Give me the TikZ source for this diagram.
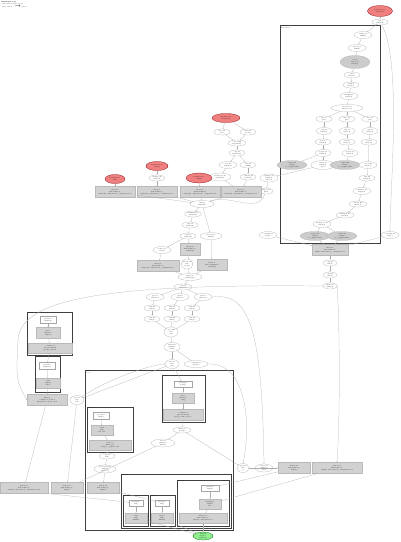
\documentclass[tikz,border=0pt]{standalone}
\usepackage{tikz}
\usetikzlibrary{shapes.geometric,arrows.meta,positioning}

\definecolor{paramred}{RGB}{240,128,128}
\definecolor{rootgreen}{RGB}{144,238,144}

\tikzset{
  every node/.style={font=\fontsize{1.5}{1.8}\selectfont, align=center, inner sep=0.2pt},
  sz/.style 2 args={minimum width=#1, minimum height=#2},
  op/.style={ellipse, draw=gray!60, line width=0.25pt, fill=white},
  param/.style={op, fill=paramred, draw=red!50!black},
  root/.style={op, fill=rootgreen, draw=green!40!black},
  heavy/.style={op, fill=gray!40},
  fus/.style={rectangle, fill=gray!35, draw=gray!55, line width=0.25pt},
  cbox/.style={rectangle, draw=gray!70, fill=white, line width=0.25pt},
  clus/.style={draw=black!75, line width=0.8pt},
  clab/.style={anchor=north west, inner sep=0.6pt, font=\fontsize{1.3}{1.5}\selectfont},
  edge/.style={draw=gray!65, line width=0.22pt, -{Stealth[length=1pt,width=0.8pt]}},
}

\begin{document}
\begin{tikzpicture}[x=1pt,y=-1pt]
\useasboundingbox (0,0) rectangle (400,542);

% titulo
\node[anchor=north west, font=\fontsize{1.4}{1.7}\selectfont, align=left] (title) at (1,1)
  {\textbf{HloModule step}\\ computation main, 63 ops\\ entry: fusion.9 $\to$ tuple.1};

% clusters
\draw[clus] (280,25) rectangle (380,243);
\node[clab] (cA) at (280,25) {fusion.1\\ kind=kLoop};
\draw[clus] (27,312) rectangle (72,355);
\node[clab] (cL1) at (27,312) {while.2};
\draw[clus] (35,356) rectangle (60,392);
\node[clab] (cL2) at (35,356) {body.2};
\draw[clus] (85,370) rectangle (233,530);
\node[clab] (cB) at (85,370) {while.5\\ body};
\draw[clus] (162,375) rectangle (205,422);
\node[clab] (cB1) at (162,375) {cond.5};
\draw[clus] (87,407) rectangle (133,452);
\node[clab] (cB2) at (87,407) {reduce.4};
\draw[clus] (121,474) rectangle (231,528);
\node[clab] (cB3) at (121,474) {body.7};
\draw[clus] (123,495) rectangle (148,526);
\node[clab] (cB4) at (123,495) {add.11};
\draw[clus] (150,495) rectangle (175,526);
\node[clab] (cB5) at (150,495) {max.12};
\draw[clus] (177,480) rectangle (229,526);
\node[clab] (cB6) at (177,480) {fused.13};

% ramo da direita
\node[param, sz={25}{11}] (r0) at (380,11) {Parameter 0\\ f32[4,16]};
\node[op, sz={16}{6}] (t1) at (380,22) {copy.1\\ f32[4,16]};
\node[op, sz={18}{7}] (a1) at (363,35) {reshape.2\\ f32[64]};
\node[op, sz={18}{7}] (a2) at (357,48) {bitcast.3\\ f32[64]};
\node[heavy, sz={30}{13}] (a3) at (355,62) {dot.4\\ lhs=\{1\}\\ f32[4,4]};
\node[op, sz={16}{6}] (a4) at (352,75) {add.5\\ f32[4,4]};
\node[op, sz={16}{6}] (a5) at (351,85) {tanh.6\\ f32[4,4]};
\node[op, sz={18}{7}] (a6) at (349,96) {multiply.7\\ f32[4,4]};
\node[op, sz={32}{7}] (a7) at (347,108) {broadcast.8\\ dims=\{0,1\}};
\node[op, sz={16}{6}] (b1) at (324,119) {slice.9\\{}[0:2]};
\node[op, sz={16}{6}] (b2) at (347,119) {slice.10\\{}[2:3]};
\node[op, sz={16}{6}] (b3) at (370,119) {slice.11\\{}[3:4]};
\node[op, sz={16}{7}] (c1) at (324,131) {exp.12\\ f32[2,4]};
\node[op, sz={16}{7}] (c2) at (347,131) {exp.13\\ f32[1,4]};
\node[op, sz={16}{7}] (c3) at (370,131) {exp.14\\ f32[1,4]};
\node[op, sz={16}{6}] (d1) at (323,142) {log.15\\ f32[2,4]};
\node[op, sz={16}{6}] (d2) at (347,142) {log.16\\ f32[1,4]};
\node[op, sz={16}{6}] (d3) at (369,142) {log.17\\ f32[1,4]};
\node[op, sz={16}{7}] (e1) at (323,153) {negate.18\\ f32[2,4]};
\node[op, sz={16}{7}] (e2) at (350,153) {negate.19\\ f32[1,4]};
\node[heavy, sz={30}{9}] (g1) at (292,165) {reduce.20\\ f32[2]\\ to\_apply=sum};
\node[op, sz={24}{9}] (f1) at (323,165) {select.21\\ f32[2,4]\\ pred};
\node[heavy, sz={30}{9}] (g2) at (345,165) {reduce.22\\ f32[1]\\ to\_apply=sum};
\node[op, sz={18}{7}] (f3) at (368,165) {concat.23\\ f32[4,4]};
\node[op, sz={16}{6}] (h1) at (367,178) {add.24\\ f32[4,4]};
\node[op, sz={18}{7}] (h2) at (362,191) {subtract.25\\ f32[4,4]};
\node[op, sz={18}{6}] (h3) at (358,204) {divide.26\\ f32[4,4]};
\node[op, sz={18}{6}] (h4) at (345,215) {multiply.27\\ f32[4,4]};
\node[op, sz={18}{7}] (h5) at (322,224) {transpose.28\\ f32[4,4]};
\node[heavy, sz={30}{9}] (h6) at (315,236) {reduce.29\\ f32[4]\\ to\_apply=max};
\node[heavy, sz={30}{9}] (h7) at (342,236) {reduce.30\\ f32[4]\\ to\_apply=sum};
\node[op, sz={18}{8}] (o1) at (269,178) {reshape.31\\ f32[2,4]\\ bitcast};
\node[op, sz={14}{6}] (o2) at (266,191) {tuple.32\\ (f32)};
\node[op, sz={18}{7}] (o3) at (268,235) {constant.33\\ f32[] 0};
\node[op, sz={18}{7}] (o4) at (390,235) {constant.34\\ f32[] 1};
\node[fus, sz={36}{11}] (gA) at (330,250) {fusion.1\\ kind=kLoop\\ f32[4] calls=fused\_computation.1};
\node[op, sz={14}{6}] (p1) at (330,263) {copy.35\\ f32[4]};
\node[op, sz={14}{6}] (p2) at (330,275) {copy.36\\ f32[4]};
\node[op, sz={14}{6}] (p3) at (330,286) {tuple.37\\ (f32[4])};

% ramo do meio
\node[param, sz={28}{9}] (m0) at (226,118) {Parameter 1\\ f32[16,16]};
\node[op, sz={16}{6}] (m1) at (222,132) {slice.40\\{}[0:8]};
\node[op, sz={16}{6}] (m2) at (248,132) {slice.41\\{}[8:16]};
\node[op, sz={18}{6}] (m3) at (237,143) {concat.42\\ f32[16,16]};
\node[op, sz={16}{6}] (m4) at (237,153) {copy.43\\ f32[16,16]};
\node[op, sz={18}{7}] (m5) at (228,165) {dot.44\\ f32[16,4]};
\node[op, sz={16}{6}] (m6) at (248,165) {iota.45\\ s32[16]};
\node[op, sz={22}{8}] (m7) at (220,177) {transpose.46\\ f32[4,16]};
\node[op, sz={16}{6}] (m8) at (248,177) {compare.47\\ pred[16]};
\node[param, sz={22}{9}] (r1) at (157,166) {Parameter 2\\ f32[4]};
\node[op, sz={16}{6}] (k1) at (157,178) {reshape.48\\ f32[1,4]};
\node[param, sz={26}{10}] (r2) at (199,178) {Parameter 3\\ s32[4]};
\node[param, sz={20}{9}] (r3) at (115,179) {Parameter 4\\ f32[]};
\node[fus, sz={40}{11}] (G1) at (115,192) {fusion.2\\ kind=kLoop\\ f32[4,16] calls=fused\_computation.2};
\node[fus, sz={40}{11}] (G2) at (157,192) {fusion.3\\ kind=kLoop\\ f32[4,16] calls=fused\_computation.3};
\node[fus, sz={40}{11}] (G3) at (200,192) {fusion.4\\ kind=kInput\\ s32[4,16] calls=fused\_computation.4};
\node[fus, sz={40}{11}] (G4) at (241,192) {fusion.5\\ kind=kLoop\\ f32[4,16] calls=fused\_computation.5};
\node[op, sz={24}{7}] (n1) at (202,204) {add.50\\ f32[4,16]};
\node[op, sz={16}{6}] (n2) at (193,214) {maximum.51\\ f32[4,16]};
\node[op, sz={16}{6}] (n3) at (190,225) {exp.52\\ f32[4,16]};
\node[op, sz={16}{6}] (n4) at (188,236) {copy.53\\ f32[4,16]};
\node[op, sz={22}{7}] (n5) at (211,236) {bitcast.54\\ f32[64]};
\node[op, sz={18}{7}] (n6) at (162,250) {reduce.55\\ f32[4]};
\node[fus, sz={20}{12}] (gB) at (190,249) {fusion.6\\ kind=kLoop\\ f32[4,16]};
\node[fus, sz={42}{11}] (gD) at (158,266) {fusion.8\\ kind=kLoop\\ f32[4,16] calls=fused\_computation.8};
\node[op, sz={12}{10}] (n7) at (187,264) {divide.56\\ f32\\{}[4,16]};
\node[fus, sz={30}{11}] (gE) at (212,265) {fusion.9\\ kind=kOutput\\ f32[4,16]};
\node[op, sz={24}{7}] (n8) at (190,277) {tuple.57\\ (f32[4,16])};
\node[op, sz={18}{6}] (n9) at (183,287) {copy.58\\ f32[4,16]};
\node[op, sz={18}{7}] (q1) at (155,297) {gte.59\\ index=0};
\node[op, sz={18}{7}] (q2) at (180,297) {gte.60\\ index=1};
\node[op, sz={18}{7}] (q3) at (203,297) {gte.61\\ index=2};
\node[op, sz={16}{6}] (s1) at (152,308) {add.62\\ f32[4]};
\node[op, sz={16}{6}] (s2) at (172,308) {add.63\\ f32[4]};
\node[op, sz={16}{6}] (s3) at (192,308) {add.64\\ f32[4]};
\node[op, sz={16}{6}] (u1) at (152,319) {sqrt.65\\ f32[4]};
\node[op, sz={16}{6}] (u2) at (172,319) {sqrt.66\\ f32[4]};
\node[op, sz={16}{6}] (u3) at (192,319) {sqrt.67\\ f32[4]};
\node[op, sz={14}{10}] (v1) at (171,332) {concat.68\\ f32\\{}[12]};
\node[op, sz={16}{9}] (v2) at (172,347) {tuple.69\\ (f32[12],\\ s32[])};
\node[op, sz={14}{9}] (w1) at (172,364) {gte.70\\ f32\\{}[12]};
\node[op, sz={24}{7}] (w2) at (196,364) {constant.71\\ s32[] 10};

% ramo da esquerda
\node[cbox, sz={16}{7}] (L1a) at (48,320) {param.0\\ (f32[12])};
\node[fus, sz={24}{11}] (L1b) at (48,333) {gte.1\\ index=0\\ f32[12]};
\node[fus, sz={44}{10}] (L1c) at (50,348) {compare.2\\ direction=LT\\ pred[] calls=lt};
\node[cbox, sz={16}{7}] (L2a) at (47,366) {param.0\\ (f32[12])};
\node[fus, sz={24}{10}] (L2b) at (48,383) {add.3\\ f32[12]\\ tuple};
\node[fus, sz={40}{11}] (gF) at (47,400) {while.2\\ condition=cond.2\\ (f32[12]) body=body.2};
\node[op, sz={14}{9}] (x1) at (77,400) {gte.72\\ f32\\{}[12]};

% cluster grande
\node[cbox, sz={18}{6}] (B1a) at (183,384) {param.0\\ (s32[])};
\node[fus, sz={22}{10}] (B1b) at (183,398) {gte.1\\ index=0\\ s32[]};
\node[fus, sz={40}{11}] (B1c) at (183,415) {compare.2\\ direction=LT\\ pred[] calls=cond.5};
\node[op, sz={18}{6}] (y1) at (182,430) {while.73\\ (s32[])};
\node[op, sz={24}{8}] (y2) at (163,443) {gte.74\\ index=1\\ f32[12]};
\node[cbox, sz={16}{7}] (B2a) at (101,416) {param.0\\ (f32[])};
\node[fus, sz={22}{10}] (B2b) at (102,430) {add.1\\ f32[]\\ lhs, rhs};
\node[fus, sz={42}{10}] (B2c) at (110,445) {reduce.4\\ dims=\{0\}\\ f32[] to\_apply=add};
\node[op, sz={16}{6}] (z1) at (107,456) {copy.75\\ f32[]};
\node[op, sz={22}{8}] (z2) at (105,469) {broadcast.76\\ f32[12]\\ dims=\{\}};
\node[fus, sz={48}{11}] (gG) at (24,488) {fusion.10\\ kind=kLoop\\ f32[12] calls=fused\_computation.10};
\node[fus, sz={32}{11}] (gH) at (67,488) {fusion.11\\ kind=kLoop\\ f32[12]};
\node[fus, sz={32}{11}] (gI) at (103,488) {fusion.12\\ kind=kLoop\\ f32[12]};
\node[cbox, sz={14}{6}] (B4a) at (136,503) {param.0\\ f32[]};
\node[fus, sz={22}{10}] (B4b) at (136,518) {add.1\\ f32[]\\ ROOT};
\node[cbox, sz={14}{6}] (B5a) at (162,503) {param.0\\ f32[]};
\node[fus, sz={22}{10}] (B5b) at (162,518) {max.1\\ f32[]\\ ROOT};
\node[cbox, sz={18}{6}] (B6a) at (210,488) {param.0\\ f32[12]};
\node[fus, sz={22}{10}] (B6b) at (210,504) {multiply.1\\ f32[12]\\ lhs};
\node[fus, sz={48}{10}] (B6c) at (203,518) {fusion.13\\ kind=kLoop\\ f32[12] calls=fused.13};
\node[root, sz={20}{8}] (g0) at (203,536) {ROOT\\ tuple.1\\ (f32[12])};

% lado direito de baixo
\node[op, sz={12}{9}] (z3) at (243,468) {gte.77\\ s32\\{}[]};
\node[op, sz={18}{8}] (z4) at (264,468) {select.78\\ f32[12]\\ pred};
\node[fus, sz={32}{11}] (gJ) at (294,468) {fusion.14\\ kind=kLoop\\ f32[12]};
\node[fus, sz={50}{11}] (gK) at (337,468) {fusion.15\\ kind=kLoop\\ f32[12] calls=fused\_computation.15};

% arestas
\foreach \a/\b in {r0/t1, t1/a1, a1/a2, a2/a3, a3/a4, a4/a5, a5/a6, a6/a7,
    a7/b1, a7/b2, a7/b3, b1/c1, b2/c2, b3/c3, c1/d1, c2/d2, c3/d3,
    d1/e1, d2/e2, e1/f1, e1/g1, e2/g2, d3/f3, f3/h1, h1/h2, h2/h3, h3/h4,
    h4/h5, h5/h6, h5/h7, f1/o1, o1/o2, h6/gA, h7/gA, o3/gA, o4/gA,
    gA/p1, p1/p2, p2/p3}
  \draw[edge] (\a) -- (\b);
\draw[edge] (t1) to[out=-60, in=90, looseness=0.5] (o4);

\foreach \a/\b in {m0/m1, m0/m2, m1/m3, m2/m3, m3/m4, m4/m5, m4/m6,
    m5/m7, m6/m8, m7/G4, m8/G4, r1/k1, k1/G2, r2/G3, r3/G1,
    G1/n1, G2/n1, G3/n1, G4/n1, n1/n2, n2/n3, n3/n4, n1/n5,
    n4/gB, n4/n6, n6/gD, n5/gE, gB/n7, gD/n8, n7/n8, gE/n8,
    n8/n9, n9/q1, n9/q2, n9/q3, q1/s1, q2/s2, q3/s3, s1/u1, s2/u2, s3/u3,
    u1/v1, u2/v1, u3/v1, v1/v2, v2/w1, v2/w2, w1/x1, w1/B1a}
  \draw[edge] (\a) -- (\b);
\draw[edge] (o2) to[out=-110, in=20] (n1);

\foreach \a/\b in {L1a/L1b, L1b/L1c, L1c/L2a, L2a/L2b, L2b/gF, gF/gG,
    B1a/B1b, B1b/B1c, B1c/y1, y1/y2, B2a/B2b, B2b/B2c, B2c/z1, z1/z2,
    z2/gI, y2/gH, gI/B5a, B4a/B4b, B5a/B5b, B6a/B6b, B6b/B6c,
    B4b/g0, B5b/g0, B6c/g0, y1/z3, z3/gJ, z4/gJ, gJ/B6a, gK/B6b}
  \draw[edge] (\a) -- (\b);
\draw[edge] (gG.south east) -- (B4a);
\draw[edge] (x1) -- (gH);

% arestas longas
\draw[edge] (p3.west) .. controls (120,284) and (20,296) .. (18,340)
  .. controls (16,380) .. (gF.west);
\draw[edge] (q3.east) .. controls (250,292) and (262,330) .. (z4.north);
\draw[edge] (w2.east) .. controls (245,362) and (252,420) .. (z3.north);
\draw[edge] (x1.north east) .. controls (110,378) and (150,365) .. (w1.west);
\draw[edge] (p3.east) .. controls (340,330) and (340,420) .. (gK.north);

\end{tikzpicture}
\end{document}
